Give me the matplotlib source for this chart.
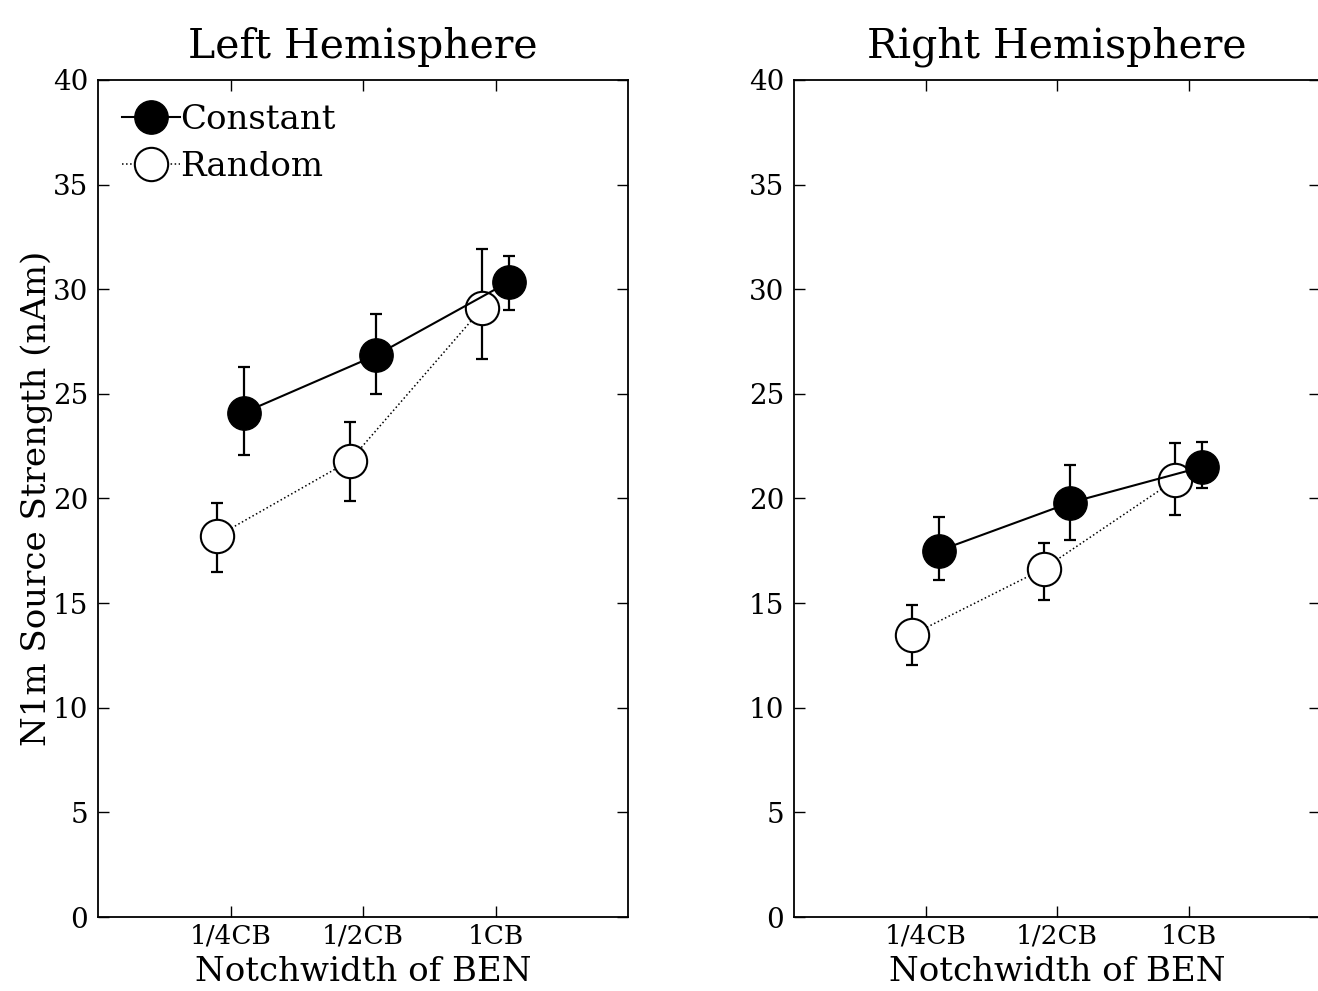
import numpy as np
import matplotlib
matplotlib.use("Agg")
import matplotlib.pyplot as plt

# --- data ---
notch_labels = ['1/4CB', '1/2CB', '1CB']

left_constant = [24.1, 26.85, 30.35]
left_constant_hi = [26.3, 28.8, 31.6]
left_constant_lo = [22.1, 25.0, 29.0]
left_random = [18.2, 21.8, 29.1]
left_random_hi = [19.8, 23.65, 31.9]
left_random_lo = [16.5, 19.9, 26.65]

right_constant = [17.5, 19.8, 21.5]
right_constant_hi = [19.1, 21.6, 22.7]
right_constant_lo = [16.1, 18.0, 20.5]
right_random = [13.5, 16.65, 20.9]
right_random_hi = [14.9, 17.85, 22.65]
right_random_lo = [12.05, 15.15, 19.2]

FONT = 'DejaVu Serif'
plt.rcParams['font.family'] = [FONT]

fig = plt.figure(figsize=(13.18, 9.91), dpi=100)
W, H = 1318, 991
ax_left = fig.add_axes([98 / W, 1 - 917 / H, 530 / W, 837 / H])
ax_right = fig.add_axes([794 / W, 1 - 917 / H, 526 / W, 837 / H])

x = np.arange(1, len(notch_labels) + 1)
off = 0.1


def draw_panel(ax, title, c, c_hi, c_lo, r, r_hi, r_lo, show_legend, show_ylabel):
    c = np.array(c); r = np.array(r)
    c_err = [c - np.array(c_lo), np.array(c_hi) - c]
    r_err = [r - np.array(r_lo), np.array(r_hi) - r]
    ax.errorbar(x + off, c, yerr=c_err, fmt='none', ecolor='black',
                elinewidth=1.6, capsize=4, capthick=1.6, zorder=2)
    ax.errorbar(x - off, r, yerr=r_err, fmt='none', ecolor='black',
                elinewidth=1.6, capsize=4, capthick=1.6, zorder=2)
    ax.plot(x - off, r, linestyle=':', color='black', linewidth=1.1,
            marker='o', markersize=24, markerfacecolor='white',
            markeredgecolor='black', markeredgewidth=1.5, label='Random', zorder=3)
    ax.plot(x + off, c, linestyle='-', color='black', linewidth=1.5,
            marker='o', markersize=24, markerfacecolor='black',
            markeredgecolor='black', label='Constant', zorder=4)

    ax.set_xlim(0, 4)
    ax.set_ylim(0, 40)
    ax.set_xticks(x)
    ax.set_xticklabels(notch_labels)
    ax.set_yticks(np.arange(0, 41, 5))
    ax.tick_params(direction='in', top=True, right=True, length=8,
                   width=1.0, labelsize=20)
    ax.tick_params(axis='y', pad=7)
    ax.tick_params(axis='x', labelsize=19, pad=5)
    for sp in ax.spines.values():
        sp.set_linewidth(1.3)
    ax.set_xlabel('Notchwidth of BEN', fontsize=24.5)
    ax.xaxis.set_label_coords(0.5, -(956 - 917) / 837)
    if show_ylabel:
        ax.set_ylabel('N1m Source Strength (nAm)', fontsize=24.5, labelpad=0)
    ax.set_title(title, fontsize=29.5, pad=16)
    if show_legend:
        handles, labels = ax.get_legend_handles_labels()
        ax.legend(handles[::-1], labels[::-1], loc='upper left', frameon=False,
                  fontsize=24.5, handlelength=1.7, handletextpad=0.0,
                  borderaxespad=0.3, labelspacing=0.45, markerscale=1.0)


draw_panel(ax_left, 'Left Hemisphere', left_constant, left_constant_hi, left_constant_lo,
           left_random, left_random_hi, left_random_lo, True, True)
draw_panel(ax_right, 'Right Hemisphere', right_constant, right_constant_hi, right_constant_lo,
           right_random, right_random_hi, right_random_lo, False, False)

fig.savefig('out.png', dpi=100)
